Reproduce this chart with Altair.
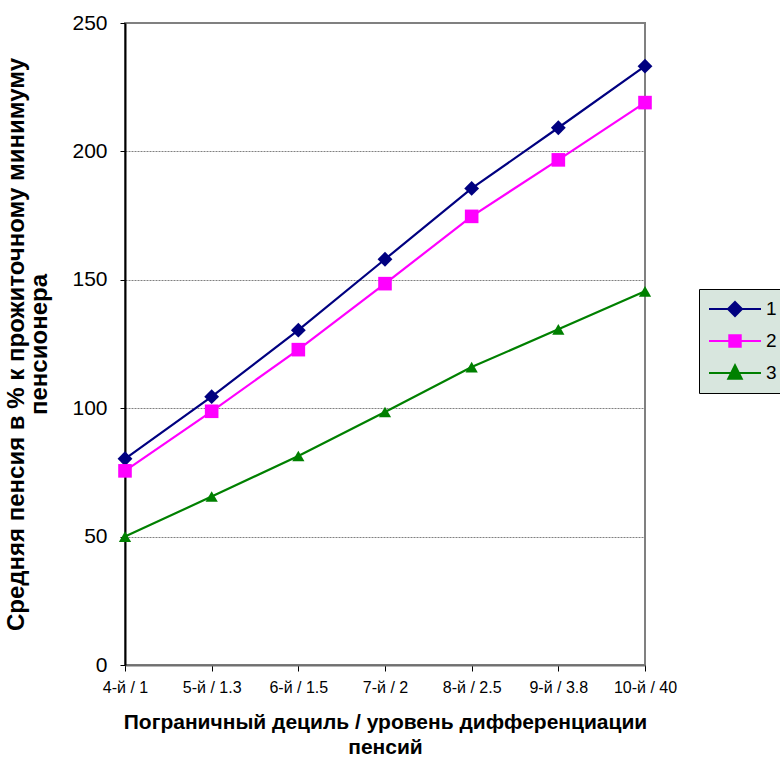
import altair as alt
import pandas as pd

# Category labels: boundary decile / pension differentiation level
categories = ["4-й / 1", "5-й / 1.3", "6-й / 1.5", "7-й / 2", "8-й / 2.5", "9-й / 3.8", "10-й / 40"]

# Average pension as % of pensioner subsistence minimum, by scenario
series_1 = [80.3, 104.5, 130.4, 158.0, 185.6, 209.2, 233.2]
series_2 = [75.6, 98.8, 122.8, 148.5, 174.7, 196.7, 219.0]
series_3 = [50.0, 65.6, 81.4, 98.5, 116.0, 130.7, 145.5]

series_names = ["1", "2", "3"]
series_colors = ["#000080", "#FF00FF", "#008000"]
series_shapes = ["diamond", "square", "triangle-up"]
marker_sizes = [220, 150, 420]
# legend glyphs: a short line with the marker in its middle
legend_glyphs = [
    "M-1,0H1M0,-0.27L0.27,0L0,0.27L-0.27,0Z",
    "M-1,0H1M-0.22,-0.22H0.22V0.22H-0.22Z",
    "M-1,0H1M0,-0.3L0.26,0.22H-0.26Z",
]

rows = []
for name, vals in zip(series_names, [series_1, series_2, series_3]):
    for cat, v in zip(categories, vals):
        rows.append({"cat": cat, "value": v, "series": name})
df = pd.DataFrame(rows)

FONT = "Liberation Sans"

x_enc = alt.X(
    "cat:N",
    sort=categories,
    scale=alt.Scale(type="point", padding=0),
    axis=alt.Axis(
        title=["Пограничный дециль / уровень дифференциации", "пенсий"],
        labelAngle=0,
        labelFontSize=16,
        labelColor="#000",
        labelPadding=8,
        tickSize=6,
        tickColor="#000",
        tickWidth=1,
        domainColor="#707070",
        domainWidth=2,
        titleFontSize=21,
        titleFontWeight="bold",
        titleColor="#000",
        titlePadding=16,
        titleLineHeight=25,
        labelOverlap=False,
        grid=False,
    ),
)
y_enc = alt.Y(
    "value:Q",
    scale=alt.Scale(domain=[0, 250], nice=False),
    axis=alt.Axis(
        title=["Средняя пенсия в % к прожиточному минимуму", "пенсионера"],
        values=[0, 50, 100, 150, 200, 250],
        labelFontSize=21,
        labelColor="#000",
        labelPadding=13,
        tickSize=5,
        tickColor="#000",
        domainColor="#000",
        domainWidth=2,
        grid=True,
        gridColor="#808080",
        gridDash=[2, 1],
        gridWidth=1,
        titleFontSize=24,
        titleFontWeight="bold",
        titleColor="#000",
        titlePadding=20,
        titleLineHeight=23,
    ),
)

color_scale = alt.Scale(domain=series_names, range=series_colors)

lines = alt.Chart(df).mark_line(strokeWidth=2.2).encode(
    x=x_enc,
    y=y_enc,
    color=alt.Color("series:N", scale=color_scale, legend=None),
    detail="series:N",
)

points = alt.Chart(df).mark_point(filled=True, opacity=1).encode(
    x=x_enc,
    y=y_enc,
    color=alt.Color("series:N", scale=color_scale, legend=None),
    shape=alt.Shape("series:N", scale=alt.Scale(domain=series_names, range=series_shapes), legend=None),
    size=alt.Size("series:N", scale=alt.Scale(domain=series_names, range=marker_sizes), legend=None),
)

legend_def = alt.Legend(
    orient="none",
    legendX=574,
    legendY=266,
    title=None,
    fillColor="#d8e6de",
    strokeColor="#000",
    padding=4,
    symbolOffset=5,
    labelFont=FONT,
    labelFontSize=19,
    labelColor="#000",
    labelOffset=4,
    symbolSize=2704,
    symbolStrokeWidth=2,
    symbolOpacity=1,
    clipHeight=32,
    rowPadding=0,
)

# key layer: carries only the legend (no data rows reach the plot)
legend_layer = (
    alt.Chart(df)
    .transform_calculate(key="datum.series")
    .transform_filter("false")
    .mark_point(filled=True, opacity=1)
    .encode(
        x=x_enc,
        y=y_enc,
        fill=alt.Fill("key:N", scale=alt.Scale(domain=series_names, range=series_colors), legend=legend_def),
        stroke=alt.Stroke("key:N", scale=alt.Scale(domain=series_names, range=series_colors), legend=legend_def),
        shape=alt.Shape("key:N", scale=alt.Scale(domain=series_names, range=legend_glyphs), legend=legend_def),
    )
)

chart = (
    alt.layer(lines, points, legend_layer)
    .resolve_scale(shape="independent", color="independent", fill="independent", stroke="independent")
    .resolve_legend(shape="independent", fill="independent", stroke="independent")
    .properties(
        width=520,
        height=642,
        autosize=alt.AutoSizeParams(type="none"),
        padding={"left": 125, "top": 23, "right": 135, "bottom": 95},
        background="#ffffff",
    )
    .configure_view(stroke="#808080", strokeWidth=2)
    .configure_axis(labelFont=FONT, titleFont=FONT)
    .configure_legend(labelFont=FONT)
)

chart.save("out.html", embed_options={"renderer": "svg", "actions": False})
